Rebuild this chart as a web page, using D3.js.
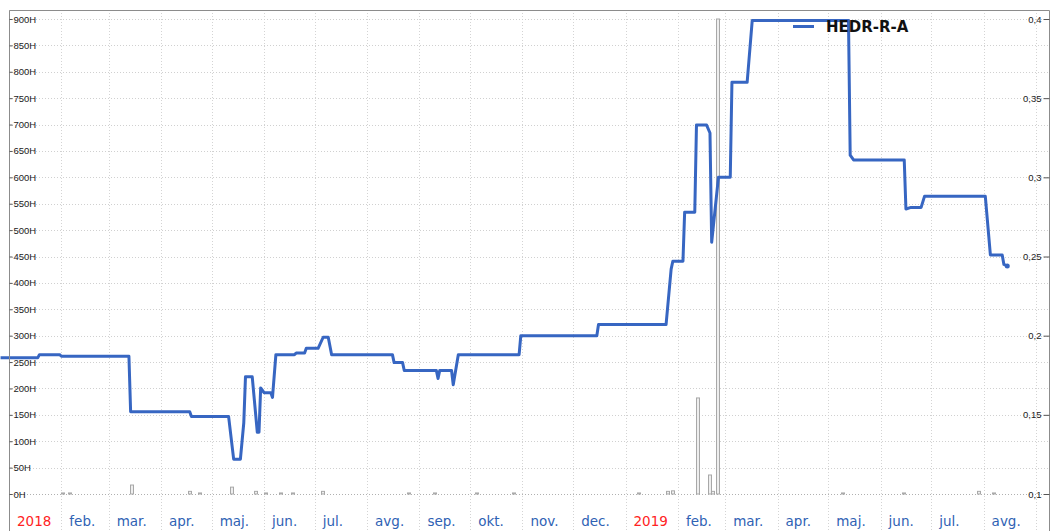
<!DOCTYPE html>
<html>
<head>
<meta charset="utf-8">
<script src="https://cdnjs.cloudflare.com/ajax/libs/d3/7.8.5/d3.min.js"></script>
<style>
  body { margin: 0; background: #fff; }
  svg { display: block; }
</style>
</head>
<body>
<script>
// price line (right axis)
var priceDates = [
  "2017-12-27", "2018-01-18", "2018-01-19", "2018-01-31", "2018-02-01", "2018-03-13", "2018-03-14",
  "2018-04-18", "2018-04-19", "2018-05-11", "2018-05-14", "2018-05-18", "2018-05-20", "2018-05-21",
  "2018-05-25", "2018-05-28", "2018-05-29", "2018-05-30", "2018-06-01", "2018-06-05", "2018-06-06",
  "2018-06-08", "2018-06-19", "2018-06-20", "2018-06-25", "2018-06-26", "2018-07-03", "2018-07-06",
  "2018-07-09", "2018-07-11", "2018-08-16", "2018-08-17", "2018-08-22", "2018-08-23", "2018-09-11",
  "2018-09-12", "2018-09-13", "2018-09-20", "2018-09-21", "2018-09-24", "2018-10-30", "2018-10-31",
  "2018-12-15", "2018-12-16", "2019-01-25", "2019-01-28", "2019-01-29", "2019-02-04", "2019-02-05",
  "2019-02-11", "2019-02-12", "2019-02-18", "2019-02-20", "2019-02-21", "2019-02-25", "2019-03-04",
  "2019-03-05", "2019-03-14", "2019-03-17", "2019-05-13", "2019-05-14", "2019-05-16", "2019-06-15",
  "2019-06-16", "2019-06-19", "2019-06-25", "2019-06-27", "2019-08-02", "2019-08-05", "2019-08-12",
  "2019-08-13", "2019-08-15"
];
var priceValues = [
  0.186, 0.186, 0.188, 0.188, 0.187, 0.187, 0.152,
  0.152, 0.149, 0.149, 0.122, 0.122, 0.145, 0.174,
  0.174, 0.139, 0.139, 0.167, 0.164, 0.164, 0.161,
  0.188, 0.188, 0.189, 0.189, 0.192, 0.192, 0.199,
  0.199, 0.188, 0.188, 0.183, 0.183, 0.178, 0.178,
  0.173, 0.178, 0.178, 0.169, 0.188, 0.188, 0.200,
  0.200, 0.207, 0.207, 0.242, 0.247, 0.247, 0.278,
  0.278, 0.333, 0.333, 0.328, 0.259, 0.300, 0.300,
  0.360, 0.360, 0.399, 0.399, 0.314, 0.311, 0.311,
  0.280, 0.281, 0.281, 0.288, 0.288, 0.251, 0.251,
  0.245, 0.244
];

// volume bars (left axis, thousands)
var volumeDates = [
  "2018-02-02", "2018-02-06", "2018-03-15", "2018-04-18", "2018-04-24", "2018-05-13", "2018-05-27",
  "2018-06-02", "2018-06-11", "2018-06-18", "2018-07-06", "2018-08-26", "2018-09-10", "2018-10-05",
  "2018-10-27", "2019-01-09", "2019-01-26", "2019-01-29", "2019-02-13", "2019-02-20", "2019-02-22",
  "2019-02-25", "2019-05-10", "2019-06-15", "2019-07-29", "2019-08-07"
];
var volumeValues = [
  2, 2, 17, 5, 2, 13, 5,
  2, 2, 2, 5, 2, 2, 2,
  2, 2, 5, 6, 182, 36, 5,
  900, 2, 2, 5, 2
];

var leftTicks = [0, 50, 100, 150, 200, 250, 300, 350, 400, 450, 500, 550, 600, 650, 700, 750, 800, 850, 900];
var rightTicks = [0.1, 0.15, 0.2, 0.25, 0.3, 0.35, 0.4];
var monthNames = ["", "feb.", "mar.", "apr.", "maj.", "jun.", "jul.", "avg.", "sep.", "okt.", "nov.", "dec."];
var seriesName = "HEDR-R-A";

const w = 1056;
const h = 531;
const plotLeft = 9, plotRight = 1049.5, plotTop = 10, plotBottom = 494;

var lineBlue = "#3766c2";
var monthBlue = "#2f62b4";
var yearRed = "#ff2323";

var parseDate = d3.timeParse("%Y-%m-%d");

var priceData = priceDates.map((d, i) => ({ date: parseDate(d), value: priceValues[i] }));
var volumeData = volumeDates.map((d, i) => ({ date: parseDate(d), value: volumeValues[i] }));

var x = d3.scaleTime()
  .domain([parseDate("2018-01-01"), parseDate("2019-09-09")])
  .range([plotLeft, plotRight]);
var yVol = d3.scaleLinear().domain([0, 900]).range([plotBottom, 19]);
var yPrice = d3.scaleLinear().domain([0.1, 0.4]).range([plotBottom, 19]);

const svg = d3.select("body")
  .append("svg")
  .attr("width", w)
  .attr("height", h)
  .style("font-family", "'DejaVu Sans', Verdana, sans-serif");

// grid
var months = x.ticks(d3.timeMonth.every(1));
svg.append("g")
  .selectAll("line")
  .data(months)
  .enter()
  .append("line")
  .attr("x1", d => Math.round(x(d)) + 0.5)
  .attr("x2", d => Math.round(x(d)) + 0.5)
  .attr("y1", plotTop)
  .attr("y2", h)
  .attr("stroke", "#d4d4d4")
  .attr("stroke-dasharray", "1,2");

svg.append("g")
  .selectAll("line")
  .data(leftTicks)
  .enter()
  .append("line")
  .attr("x1", plotLeft)
  .attr("x2", plotRight)
  .attr("y1", d => Math.round(yVol(d)) + 0.5)
  .attr("y2", d => Math.round(yVol(d)) + 0.5)
  .attr("stroke", d => d == 0 ? "#b0b0b0" : "#d0d0d0")
  .attr("stroke-dasharray", "1,2");

// volume bars
svg.append("g")
  .selectAll("rect")
  .data(volumeData)
  .enter()
  .append("rect")
  .attr("x", d => Math.round(x(d.date)) - 1.5)
  .attr("y", d => yVol(d.value))
  .attr("width", 3)
  .attr("height", d => plotBottom - yVol(d.value))
  .attr("fill", "#eeeeee")
  .attr("stroke", "#a8a8a8")
  .attr("stroke-width", 1);

// price line
var line = d3.line()
  .x(d => x(d.date))
  .y(d => yPrice(d.value));

svg.append("path")
  .datum(priceData)
  .attr("d", line)
  .attr("fill", "none")
  .attr("stroke", lineBlue)
  .attr("stroke-width", 3)
  .attr("stroke-linejoin", "round");

var last = priceData[priceData.length - 1];
svg.append("circle")
  .attr("cx", x(last.date))
  .attr("cy", yPrice(last.value))
  .attr("r", 2.5)
  .attr("fill", lineBlue);

// frame
svg.append("path")
  .attr("d", "M" + (plotLeft + 0.5) + "," + h + "V" + (plotTop + 0.5) + "H" + plotRight + "V" + h)
  .attr("fill", "none")
  .attr("stroke", "#8c8c8c");

// left axis (ticks inside)
var leftAxis = d3.axisRight(yVol)
  .tickValues(leftTicks)
  .tickSize(3)
  .tickPadding(1)
  .tickFormat(d => d + "H");
var gl = svg.append("g")
  .attr("transform", "translate(" + (plotLeft + 0.5) + ",0)")
  .call(leftAxis);
gl.select(".domain").remove();
gl.selectAll("line").attr("stroke", "#555");
gl.selectAll("text").attr("fill", "#222").style("font-size", "9.5px");

// right axis (ticks inside)
var rightAxis = d3.axisLeft(yPrice)
  .tickValues(rightTicks)
  .tickSize(6)
  .tickPadding(2)
  .tickFormat(d => String(d).replace(".", ","));
var gr = svg.append("g")
  .attr("transform", "translate(" + plotRight + ",0)")
  .call(rightAxis);
gr.select(".domain").remove();
gr.selectAll("line").attr("stroke", "#555");
gr.selectAll("text").attr("fill", "#222").style("font-size", "9.5px");

// month labels
svg.append("g")
  .selectAll("text")
  .data(months.filter(d => x(d) < plotRight - 30))
  .enter()
  .append("text")
  .attr("x", d => x(d) + 8)
  .attr("y", 526)
  .style("font-size", "13.5px")
  .attr("fill", d => d.getMonth() == 0 ? yearRed : monthBlue)
  .text(d => d.getMonth() == 0 ? d.getFullYear() : monthNames[d.getMonth()]);

// legend
svg.append("line")
  .attr("x1", 793)
  .attr("x2", 814)
  .attr("y1", 26.5)
  .attr("y2", 26.5)
  .attr("stroke", lineBlue)
  .attr("stroke-width", 3);
svg.append("text")
  .attr("x", 826)
  .attr("y", 32)
  .style("font-size", "15px")
  .style("font-weight", "bold")
  .attr("fill", "#111")
  .text(seriesName);
</script>
</body>
</html>
